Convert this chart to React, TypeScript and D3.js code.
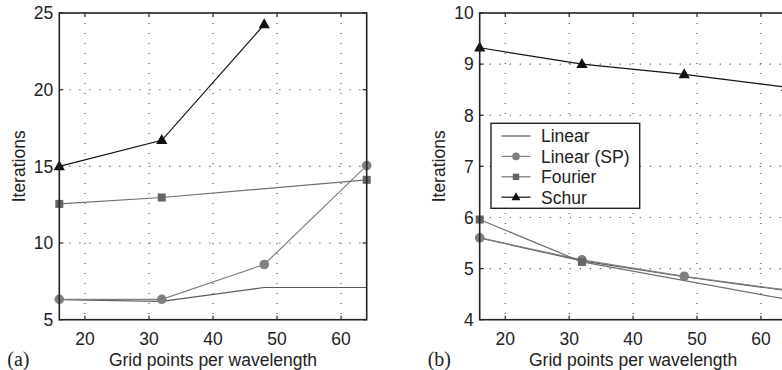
import React from "react";
import * as d3 from "d3";

const xs = [16, 32, 48, 64];
const xTicks = [20, 30, 40, 50, 60];

const aLinear: (number | null)[] = [6.3, 6.2, 7.1, 7.1];
const aLinearSP: (number | null)[] = [6.33, 6.33, 8.6, 15.05];
const aFourier: (number | null)[] = [12.55, 12.97, null, 14.12];
const aSchur: (number | null)[] = [15.0, 16.7, 24.25, null];
const aYTicks = [5, 10, 15, 20, 25];

const bLinear: (number | null)[] = [5.6, 5.15, 4.84, 4.57];
const bLinearSP: (number | null)[] = [5.6, 5.17, 4.85, 4.58];
const bFourier: (number | null)[] = [5.96, 5.13, null, 4.4];
const bSchur: (number | null)[] = [9.32, 9.0, 8.8, 8.55];
const bYTicks = [4, 5, 6, 7, 8, 9, 10];

const seriesNames = ["Linear", "Linear (SP)", "Fourier", "Schur"];

const FONT = "'Liberation Sans', Arial, Helvetica, sans-serif";
const FS = 17.5;

type Series = { name: string; vals: (number | null)[]; color: string; marker: string; mcolor: string };

function Marker({ kind, x, y, color, s = 1 }: { kind: string; x: number; y: number; color: string; s?: number }) {
  if (kind === "circle") return <circle cx={x} cy={y} r={4.8 * s} fill={color} />;
  if (kind === "square") return <rect x={x - 4 * s} y={y - 4 * s} width={8 * s} height={8 * s} fill={color} />;
  if (kind === "triangle")
    return <path d={`M${x},${y - 6.2 * s}L${x + 5.6 * s},${y + 3.8 * s}L${x - 5.6 * s},${y + 3.8 * s}Z`} fill={color} />;
  return null;
}

function Panel({
  x0, x1, y0, y1, yDomain, yTicks, series, label, showLegend,
}: {
  x0: number; x1: number; y0: number; y1: number; yDomain: [number, number]; yTicks: number[];
  series: Series[]; label: string; showLegend: boolean;
}) {
  const x = d3.scaleLinear().domain([16, 64]).range([x0, x1]);
  const y = d3.scaleLinear().domain(yDomain).range([y1, y0]);
  const line = d3.line<[number, number]>().x((d) => x(d[0])).y((d) => y(d[1]));
  const cx = (x0 + x1) / 2;
  return (
    <g>
      {xTicks.map((t) => (
        <line key={"gx" + t} x1={x(t)} x2={x(t)} y1={y0} y2={y1} stroke="#444" strokeWidth={1.1} strokeDasharray="1.1,8.9" />
      ))}
      {yTicks.slice(1, -1).map((t) => (
        <line key={"gy" + t} x1={x0} x2={x1} y1={y(t)} y2={y(t)} stroke="#444" strokeWidth={1.1} strokeDasharray="1.1,8.9" />
      ))}
      {xTicks.map((t) => (
        <g key={"tx" + t}>
          <line x1={x(t)} x2={x(t)} y1={y1} y2={y1 - 4} stroke="#222" strokeWidth={1.2} />
          <line x1={x(t)} x2={x(t)} y1={y0} y2={y0 + 4} stroke="#222" strokeWidth={1.2} />
          <text x={x(t)} y={y1 + 25} textAnchor="middle" fontFamily={FONT} fontSize={FS} fill="#222">{t}</text>
        </g>
      ))}
      {yTicks.map((t) => (
        <g key={"ty" + t}>
          <line x1={x0} x2={x0 + 4} y1={y(t)} y2={y(t)} stroke="#222" strokeWidth={1.2} />
          <line x1={x1} x2={x1 - 4} y1={y(t)} y2={y(t)} stroke="#222" strokeWidth={1.2} />
          <text x={x0 - 6} y={y(t) + 6.3} textAnchor="end" fontFamily={FONT} fontSize={FS} fill="#222">{t}</text>
        </g>
      ))}
      {series.map((s) => {
        const pts = xs
          .map((xv, i) => [xv, s.vals[i]] as [number, number | null])
          .filter((p) => p[1] !== null) as [number, number][];
        return (
          <g key={s.name}>
            <path d={line(pts) || ""} fill="none" stroke={s.color} strokeWidth={1.2} />
            {s.marker !== "none" && pts.map((p, i) => (
              <Marker key={i} kind={s.marker} x={x(p[0])} y={y(p[1])} color={s.mcolor} />
            ))}
          </g>
        );
      })}
      <rect x={x0} y={y0} width={x1 - x0} height={y1 - y0} fill="none" stroke="#222" strokeWidth={1.6} />
      <text x={cx} y={366} textAnchor="middle" fontFamily={FONT} fontSize={FS} fill="#222">Grid points per wavelength</text>
      <text transform={`translate(${x0 - 34.5},${(y0 + y1) / 2}) rotate(-90)`} textAnchor="middle" fontFamily={FONT} fontSize={FS} fill="#222">Iterations</text>
      <text x={x0 - 52} y={366} fontFamily="'Liberation Serif', 'Times New Roman', serif" fontSize={20} fill="#222">{label}</text>
      {showLegend && (
        <g>
          <rect x={491} y={123.3} width={148.7} height={85} fill="#fff" stroke="#222" strokeWidth={1.4} />
          {series.map((s, i) => {
            const ly = 136 + i * 20.4;
            return (
              <g key={"lg" + s.name}>
                <line x1={501.5} x2={530.5} y1={ly} y2={ly} stroke={s.color} strokeWidth={1.2} />
                {s.marker !== "none" && <Marker kind={s.marker} x={516} y={ly} color={s.mcolor} s={0.8} />}
                <text x={541} y={ly + 6.3} fontFamily={FONT} fontSize={FS} fill="#222">{s.name}</text>
              </g>
            );
          })}
        </g>
      )}
    </g>
  );
}

export default function App() {
  const mk = (lin: (number | null)[], sp: (number | null)[], fo: (number | null)[], sc: (number | null)[]): Series[] => [
    { name: seriesNames[0], vals: lin, color: "#5a5a5a", marker: "none", mcolor: "#5a5a5a" },
    { name: seriesNames[1], vals: sp, color: "#808080", marker: "circle", mcolor: "#808080" },
    { name: seriesNames[2], vals: fo, color: "#707070", marker: "square", mcolor: "#656565" },
    { name: seriesNames[3], vals: sc, color: "#111", marker: "triangle", mcolor: "#111" },
  ];
  return (
    <svg width={782} height={370} style={{ position: "absolute", left: 0, top: 0, background: "#fff" }}>
      <rect width={782} height={370} fill="#fff" />
      <Panel x0={59.3} x1={366.7} y0={13} y1={319.7} yDomain={[5, 25]} yTicks={aYTicks}
        series={mk(aLinear, aLinearSP, aFourier, aSchur)} label="(a)" showLegend={false} />
      <Panel x0={479.7} x1={786.5} y0={13} y1={319.7} yDomain={[4, 10]} yTicks={bYTicks}
        series={mk(bLinear, bLinearSP, bFourier, bSchur)} label="(b)" showLegend={true} />
    </svg>
  );
}
